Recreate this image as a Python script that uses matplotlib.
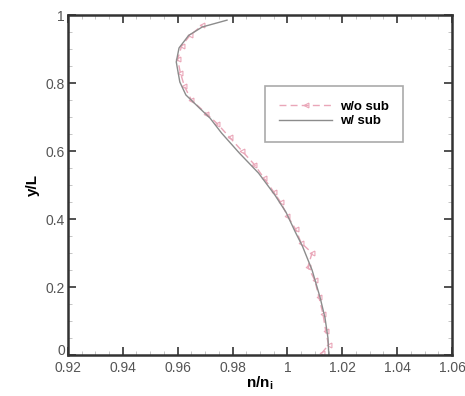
import numpy as np
import matplotlib
matplotlib.use("Agg")
import matplotlib.pyplot as plt
import matplotlib.transforms as mtrans
from matplotlib.ticker import MultipleLocator

plt.rcParams['font.family'] = ['Liberation Sans', 'DejaVu Sans']

# profile with substrate (solid line)
n_sub = [1.0151, 1.0148, 1.0137, 1.0119, 1.0090, 1.0055, 1.0030, 0.9995,
         0.9955, 0.9895, 0.9825, 0.9760, 0.9718, 0.9680, 0.9630, 0.9608,
         0.9595, 0.9605, 0.9640, 0.9690, 0.9780]
y_sub = [0.000, 0.050, 0.110, 0.170, 0.250, 0.320, 0.360, 0.420,
         0.470, 0.535, 0.594, 0.653, 0.697, 0.726, 0.765, 0.803,
         0.862, 0.903, 0.940, 0.965, 0.985]

# profile without substrate (dashed, noisy)
n_nosub = [1.0125, 1.0150, 1.0140, 1.0130, 1.0115, 1.0100, 1.0075, 1.0090,
           1.0050, 1.0030, 1.0000, 0.9975, 0.9950, 0.9915, 0.9880, 0.9835,
           0.9790, 0.9745, 0.9705, 0.9650, 0.9625, 0.9610, 0.9600, 0.9615,
           0.9645, 0.9690]
y_nosub = [0.005, 0.030, 0.070, 0.120, 0.170, 0.220, 0.260, 0.300,
           0.330, 0.370, 0.410, 0.450, 0.480, 0.520, 0.560, 0.600,
           0.640, 0.680, 0.710, 0.750, 0.790, 0.830, 0.870, 0.910,
           0.940, 0.970]

fig = plt.figure(figsize=(4.65, 3.96), dpi=100)
ax = fig.add_axes([0.146, 0.1035, 0.826, 0.8585])

ax.plot(n_nosub, y_nosub, color='#eaa6b8', lw=1.0, ls=(0, (5, 3)),
        marker='<', ms=3.5, mfc='none', mec='#eaa6b8', mew=0.8,
        label='w/o sub')
ax.plot(n_sub, y_sub, color='#8c8c8c', lw=1.0, label='w/ sub')

ax.set_xlim(0.92, 1.06)
ax.set_ylim(0, 1)
ax.set_xticks([0.92, 0.94, 0.96, 0.98, 1.0, 1.02, 1.04, 1.06])
ax.set_xticklabels(['0.92', '0.94', '0.96', '0.98', '1', '1.02', '1.04', '1.06'])
ax.set_yticks([0, 0.2, 0.4, 0.6, 0.8, 1.0])
ax.set_yticklabels(['0', '0.2', '0.4', '0.6', '0.8', '1'])
ax.xaxis.set_minor_locator(MultipleLocator(0.005))
ax.yaxis.set_minor_locator(MultipleLocator(0.05))
ax.tick_params(which='both', direction='in', top=True, right=True,
               labelsize=10, labelcolor='#555555', color='#333333')
ax.tick_params(which='major', length=6, width=1.2)
ax.tick_params(axis='x', which='major', pad=4)
ax.tick_params(axis='y', which='major', pad=2)
ax.tick_params(which='minor', length=3, width=0.6, color='#bbbbbb')
for s in ax.spines.values():
    s.set_linewidth(1.8)
    s.set_color('#333333')

# nudge the "0" y label up so it clears "0.92"
lab0 = ax.get_yticklabels()[0]
lab0.set_transform(lab0.get_transform() +
                   mtrans.ScaledTranslation(0, 4 / 72, fig.dpi_scale_trans))

ax.set_xlabel('n/n$_\\mathregular{i}$', fontsize=11, fontweight='bold', labelpad=0)
ax.set_ylabel('y/L', fontsize=11, fontweight='bold', labelpad=4)

leg = ax.legend(loc='upper left', bbox_to_anchor=(0.495, 0.81), frameon=True,
                fancybox=False, framealpha=1, edgecolor='#aaaaaa',
                prop={'weight': 'bold', 'size': 9.5}, handlelength=4.0,
                borderpad=1.1, labelspacing=0.15, handletextpad=0.6)
leg.get_frame().set_linewidth(1.2)

fig.savefig('out.png', dpi=100)
